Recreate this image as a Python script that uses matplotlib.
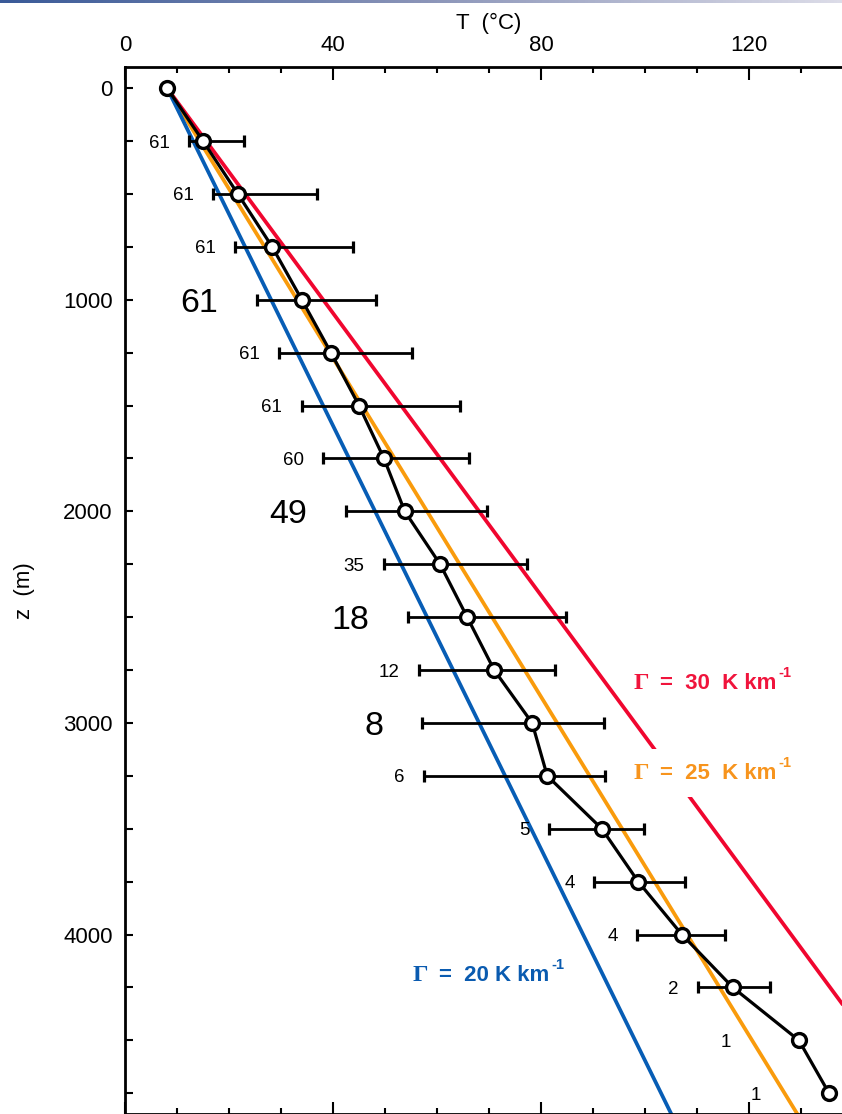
import numpy as np
import matplotlib
matplotlib.use("Agg")

import matplotlib.pyplot as plt
from matplotlib.ticker import MultipleLocator
from matplotlib.colors import LinearSegmentedColormap

plt.rcParams['font.family'] = ['Liberation Sans', 'DejaVu Sans']

# depth of each sample (m) and mean temperature (deg C)
depth = [0, 250, 500, 750, 1000, 1250, 1500, 1750, 2000, 2250, 2500,
         2750, 3000, 3250, 3500, 3750, 4000, 4250, 4500, 4750]
temp = [8.1, 15.0, 21.7, 28.3, 34.0, 39.6, 45.0, 49.8, 53.8, 60.6, 65.8,
        71.0, 78.3, 81.2, 91.7, 98.7, 107.1, 116.9, 129.6, 135.4]
# range of temperatures at each depth (nan = no bar)
temp_min = [np.nan, 12.3, 16.9, 21.2, 25.4, 29.6, 34.0, 38.1, 42.5, 49.8, 54.4,
            56.5, 57.1, 57.5, 81.5, 90.2, 98.5, 110.2, np.nan, np.nan]
temp_max = [np.nan, 22.9, 36.9, 43.8, 48.3, 55.2, 64.4, 66.2, 69.6, 77.3, 84.8,
            82.7, 92.1, 92.3, 99.8, 107.7, 115.4, 124.0, np.nan, np.nan]
# number of wells at each depth
n_wells = [None, 61, 61, 61, 61, 61, 61, 60, 49, 35, 18,
           12, 8, 6, 5, 4, 4, 2, 1, 1]
big_label_depths = [1000, 2000, 2500, 3000]

# lapse rates (K/km)
gammas = [30, 25, 20]
gamma_colors = ['#f0062f', '#f99b0c', '#075db5']
gamma_text_colors = ['#f0143c', '#f7941d', '#0a5bb0']
gamma_label_pos = [(97.7, 2812), (97.7, 3237), (55.2, 4192)]
gamma_label_text = ['=  30  K km', '=  25  K km', '=  20 K km']

fig = plt.figure(figsize=(8.42, 11.14), dpi=100)
ax = fig.add_axes([125 / 842, -0.0004, 728 / 842, 0.9403])

# reference lapse-rate lines from the surface temperature
z_line = np.array([0, 5000])
for g, c in zip(gammas, gamma_colors):
    ax.plot(temp[0] + g * z_line / 1000.0, z_line, color=c, lw=2.7, zorder=2,
            solid_capstyle='butt')

T = np.array(temp)
lo = np.array(temp_min)
hi = np.array(temp_max)
ax.errorbar(T, depth, xerr=[T - lo, hi - T], fmt='none', ecolor='black',
            elinewidth=2.0, capsize=4, capthick=2.3, zorder=3)
ax.plot(T, depth, color='black', lw=2.3, zorder=4)
ax.plot(T, depth, 'o', ms=10, mfc='white', mec='black', mew=2.4, zorder=5)

# well counts next to each bar
for z, t, l, n in zip(depth, T, lo, n_wells):
    if n is None:
        continue
    big = z in big_label_depths
    if np.isnan(l):
        x0, gap = t, 49
    else:
        x0, gap = l, (28 if big else 14)
    ax.annotate(str(n), xy=(x0, z), xytext=(-gap, 0), textcoords='offset points',
                ha='right', va='center_baseline', fontsize=24.5 if big else 13.5,
                zorder=6)

# lapse-rate labels
for (lx, lz), txt, c, g in zip(gamma_label_pos, gamma_label_text, gamma_text_colors, gammas):
    box = None
    if g == 25:
        box = dict(boxstyle='square,pad=0.6', fc='white', ec='none')
    main = ax.annotate(txt, xy=(lx, lz), xytext=(19.5, 0), textcoords='offset points',
                       ha='left', va='center', fontsize=16, fontweight='bold',
                       color=c, bbox=box, zorder=7)
    ax.annotate('-1', xy=(1, 1), xycoords=main, xytext=(1.5, 0), textcoords='offset points',
                ha='left', va='center', fontsize=10.5, fontweight='bold', color=c, zorder=8)
    ax.text(lx, lz, 'Γ', family='Liberation Serif', fontweight='bold',
            fontsize=17.5, color=c, ha='left', va='center', zorder=8)

ax.set_xlim(0, 140)
ax.set_ylim(4850, -100)

ax.xaxis.tick_top()
ax.xaxis.set_label_position('top')
ax.xaxis.set_major_locator(MultipleLocator(40))
ax.xaxis.set_minor_locator(MultipleLocator(10))
ax.yaxis.set_major_locator(MultipleLocator(1000))
ax.yaxis.set_minor_locator(MultipleLocator(250))
ax.tick_params(axis='x', which='both', direction='in', top=True, bottom=True,
               labeltop=True, labelbottom=False, width=1.5, labelsize=16, pad=8)
ax.tick_params(axis='x', which='major', length=9)
ax.tick_params(axis='x', which='minor', length=4)
ax.tick_params(axis='y', which='both', direction='in', left=True, right=False,
               length=6, width=1.5, labelsize=16, pad=9)

for s in ax.spines.values():
    s.set_linewidth(2)

ax.set_xlabel('T  (°C)', fontsize=16, labelpad=4)
ax.set_ylabel('z  (m)', fontsize=16, labelpad=20)

# thin gradient rule along the top edge
bar = fig.add_axes([0, 1 - 3 / 1114, 1, 3 / 1114])
grad = LinearSegmentedColormap.from_list('rule', ['#3a5a98', '#8a94b8', '#dcdce8'])
bar.imshow(np.linspace(0, 1, 256)[None, :], aspect='auto', cmap=grad)
bar.axis('off')

fig.savefig('out.png', dpi=100)
